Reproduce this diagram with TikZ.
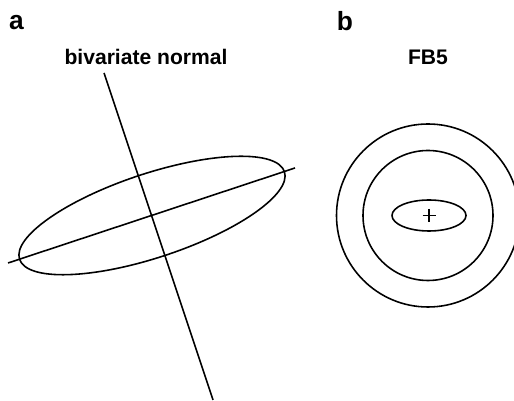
\documentclass[tikz,border=0pt]{standalone}
\usepackage{fontspec}
\setmainfont{Liberation Sans}
\usepackage{tikz}
\usetikzlibrary{calc}

\begin{document}
\begin{tikzpicture}[x=0.02cm,y=-0.02cm,
 panelname/.style={font=\bfseries\fontsize{15}{18}\selectfont,anchor=base,inner sep=0pt},
 paneltitle/.style={font=\bfseries\fontsize{12}{14}\selectfont,anchor=base,inner sep=0pt},
 contour/.style={line width=0.9pt},
 axisline/.style={line width=0.9pt}
]
\useasboundingbox (0,0) rectangle (514,401);

% panel a
\node[panelname] (la) at (16.5,30) {a};
\node[paneltitle] (ta) at (146,65) {bivariate normal};
\coordinate (bc) at (152,215.5);
\coordinate (majl) at (8,263);
\coordinate (majr) at (295,168);
\coordinate (mint) at (104,73);
\coordinate (minb) at (213,400);
\draw[contour,rotate around={18.3:(bc)}] (bc) ellipse [x radius=139.5,y radius=42];
\draw[axisline] (majl)--(majr);
\draw[axisline] (mint)--(minb);

% panel b
\node[panelname] (lb) at (345,31) {b};
\node[paneltitle] (tb) at (428,65) {FB5};
\coordinate (fc) at (428,215.5);
\coordinate (mode) at (429,215.5);
\draw[contour] (fc) circle [radius=91.5];
\draw[contour] (fc) circle [radius=65];
\draw[contour] (mode) ellipse [x radius=37,y radius=15.5];
\draw[line width=0.8pt] ($(mode)+(-6.5,0)$)--($(mode)+(6.5,0)$);
\draw[line width=0.8pt] ($(mode)+(0,-6.5)$)--($(mode)+(0,6.5)$);
\end{tikzpicture}
\end{document}
